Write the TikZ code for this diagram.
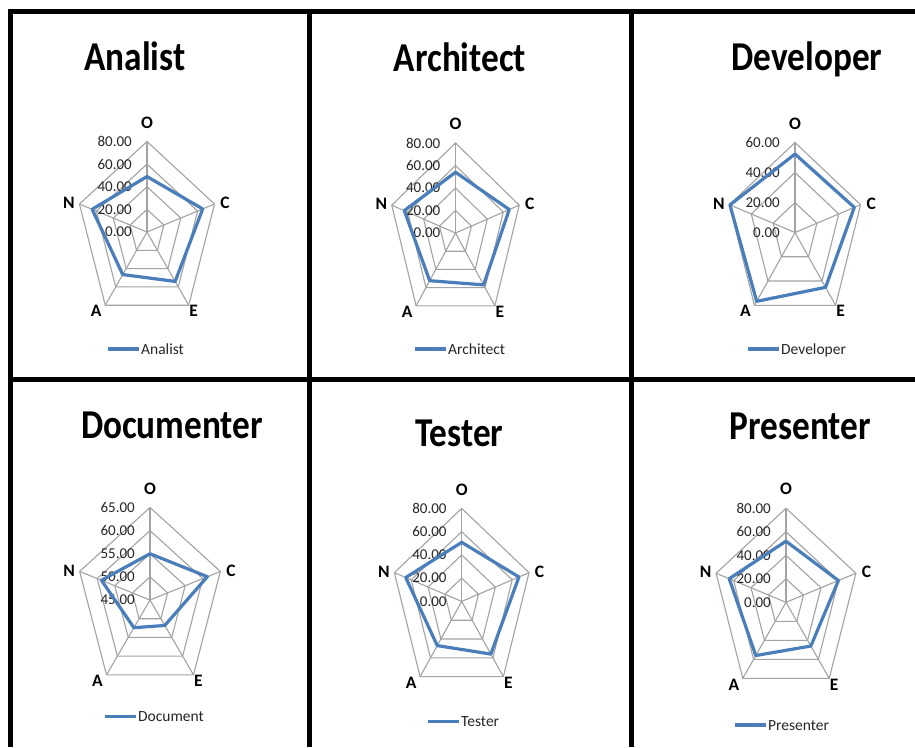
\documentclass[tikz,border=0pt]{standalone}
\usepackage{fontspec}
\setmainfont{Carlito}
\usepackage{graphicx}
\usetikzlibrary{calc}

\definecolor{seriesblue}{HTML}{4A7EBB}
\definecolor{gridgray}{HTML}{A3A3A3}
\definecolor{labelgray}{HTML}{262626}

\tikzset{
  frameline/.style={line width=5pt, black},
  gridline/.style={line width=1.1pt, gridgray},
  dataline/.style={line width=3.2pt, seriesblue, line join=round},
  legendline/.style={line width=3.2pt, seriesblue},
  charttitle/.style={font=\fontsize{41}{48}\selectfont\bfseries, inner sep=0pt, anchor=base},
  axislabel/.style={font=\fontsize{17.5}{20}\selectfont\bfseries, inner sep=0pt, black},
  ticklabel/.style={font=\fontsize{15}{17}\selectfont, inner sep=0pt, labelgray, anchor=east},
  legendtext/.style={font=\fontsize{15.5}{18}\selectfont, inner sep=0pt, labelgray, anchor=base west},
}

% tick values are typeset in the text font
\pgfkeys{/pgf/number format/.cd, fixed, precision=2, zerofill, assume math mode=true}

% squeezed title text
\newcommand\titletext[1]{\scalebox{0.86}[1]{#1}}

% #1 cx, #2 cy, #3 x-radius, #4 y-radius, #5 scale minimum, #6 ring step,
% #7 number of rings, #8 values {O,C,E,A,N}, #9 name prefix
\newcommand\radarchart[9]{%
  \begin{scope}[shift={(#1,#2)}, x=#3pt, y=#4pt]
    \foreach \a in {90,18,-54,-126,162}
      \draw[gridline] (0,0) -- (\a:1);
    \foreach \k in {1,...,#7}{
      \pgfmathsetmacro\fr{\k/#7}
      \draw[gridline] (90:\fr) -- (18:\fr) -- (-54:\fr) -- (-126:\fr) -- (162:\fr) -- cycle;
    }
    \foreach \k in {0,...,#7}{
      \pgfmathsetmacro\fr{\k/#7}
      \pgfmathsetmacro\val{#5+\k*#6}
      \node[ticklabel, xshift=-15pt] (#9-tick\k) at (0,\fr)
        {\pgfmathprintnumber{\val}};
    }
    \foreach \v [count=\i] in {#8}{
      \pgfmathsetmacro\ang{{90,18,-54,-126,162}[\i-1]}
      \pgfmathsetmacro\fr{(\v-#5)/(#6*#7)}
      \coordinate (#9-d\i) at (\ang:\fr);
    }
    \draw[dataline] (#9-d1) -- (#9-d2) -- (#9-d3) -- (#9-d4) -- (#9-d5) -- cycle;
    \node[axislabel, yshift=19pt] (#9-O) at (90:1) {O};
    \node[axislabel, xshift=10.5pt, yshift=1pt] (#9-C) at (18:1) {C};
    \node[axislabel, xshift=5pt, yshift=-6pt] (#9-E) at (-54:1) {E};
    \node[axislabel, xshift=-9pt, yshift=-6pt] (#9-A) at (-126:1) {A};
    \node[axislabel, xshift=-10.5pt, yshift=1pt] (#9-N) at (162:1) {N};
  \end{scope}%
}

% legend: #1 x of line start, #2 y, #3 text, #4 name
\newcommand\legendentry[4]{%
  \coordinate (#4-l1) at (#1,#2);
  \coordinate (#4-l2) at ($(#4-l1)+(31,0)$);
  \draw[legendline] (#4-l1) -- (#4-l2);
  \node[legendtext] (#4-lt) at ($(#4-l2)+(2,5)$) {#3};
}

\begin{document}
\begin{tikzpicture}[x=1pt, y=-1pt]
  \useasboundingbox (0,0) rectangle (915,747);
  \fill[white] (0,0) rectangle (915,747);

  % table frame
  \draw[frameline] (8,11) -- (915,11);
  \draw[frameline] (8,379) -- (915,379);
  \draw[frameline] (10.5,8.5) -- (10.5,747);
  \draw[frameline] (309,8.5) -- (309,747);
  \draw[frameline] (631,8.5) -- (631,747);

  % top row
  \node[charttitle] (t-analist) at (135,70) {\titletext{Analist}};
  \radarchart{147}{232}{71}{90.5}{0}{20}{4}{49,66,54,46.5,65}{an}
  \legendentry{108}{349}{Analist}{an}

  \node[charttitle] (t-architect) at (460,71) {\titletext{Architect}};
  \radarchart{455.5}{233}{67}{90}{0}{20}{4}{54,67.5,57,52.4,64.3}{ar}
  \legendentry{415}{349}{Architect}{ar}

  \node[charttitle] (t-developer) at (807,70) {\titletext{Developer}};
  \radarchart{795}{232.5}{69}{90}{0}{20}{3}{52.3,54.2,45.2,56.7,59.5}{de}
  \legendentry{748}{349}{Developer}{de}

  % bottom row
  \node[charttitle] (t-documenter) at (172,438.5) {\titletext{Documenter}};
  \radarchart{150}{600}{74}{92.5}{45}{5}{4}{55,61.3,51.8,52.4,58.8}{do}
  \legendentry{105}{716.5}{Document}{do}

  \node[charttitle] (t-tester) at (459.5,446) {\titletext{Tester}};
  \radarchart{461.7}{601.4}{70.8}{93}{0}{20}{4}{50.8,68,56,47,66.5}{te}
  \legendentry{428}{721.5}{Tester}{te}

  \node[charttitle] (t-presenter) at (800.5,439) {\titletext{Presenter}};
  \radarchart{786}{602.3}{73.5}{94}{0}{20}{4}{52,60,46,56,65}{pr}
  \legendentry{735}{725}{Presenter}{pr}
\end{tikzpicture}
\end{document}
